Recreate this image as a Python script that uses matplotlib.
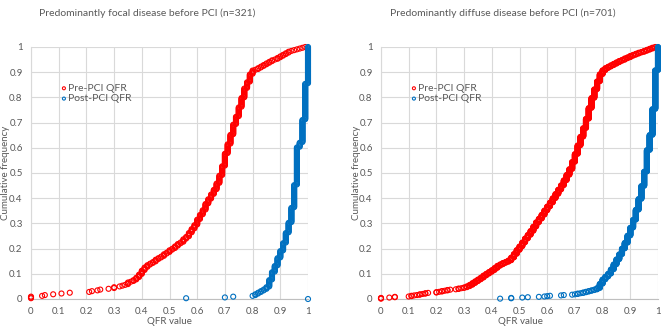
import numpy as np
import matplotlib
matplotlib.use("Agg")
import matplotlib.pyplot as plt

# QFR values (rounded to 0.01) and number of vessels at each value
focal_pre_vals = [0.00, 0.04, 0.05, 0.08, 0.11, 0.14, 0.21, 0.22, 0.24, 0.25, 0.28, 0.30, 0.32, 0.33, 0.34,
                  0.35, 0.36, 0.37, 0.38, 0.39, 0.40, 0.41, 0.42, 0.43, 0.44, 0.45, 0.46, 0.47, 0.48, 0.49,
                  0.50, 0.51, 0.52, 0.53, 0.54, 0.55, 0.56, 0.57, 0.58, 0.59, 0.60, 0.61, 0.62, 0.63, 0.64,
                  0.65, 0.66, 0.67, 0.68, 0.69, 0.70, 0.71, 0.72, 0.73, 0.74, 0.75, 0.76, 0.77, 0.78, 0.79,
                  0.80, 0.81, 0.82, 0.83, 0.84, 0.85, 0.86, 0.87, 0.88, 0.89, 0.90, 0.91, 0.92, 0.93, 0.94,
                  0.95, 0.96, 0.97, 0.98, 0.99]
focal_pre_counts = [3, 1, 1, 1, 1, 1, 1, 1, 1, 1, 1, 2, 1, 1, 1,
                    3, 1, 2, 3, 4, 5, 4, 3, 2, 2, 3, 2, 2, 3, 2,
                    3, 2, 3, 3, 2, 4, 3, 5, 5, 5, 7, 6, 6, 8, 6,
                    6, 6, 8, 10, 12, 16, 12, 12, 13, 10, 12, 12, 12, 8, 10,
                    5, 1, 2, 2, 2, 2, 2, 2, 1, 2, 2, 2, 2, 2, 1,
                    1, 1, 1, 1, 1]

focal_post_vals = [0.56, 0.70, 0.73, 0.80, 0.81, 0.82, 0.83, 0.84, 0.85, 0.86, 0.87, 0.88, 0.89, 0.90,
                   0.91, 0.92, 0.93, 0.94, 0.95, 0.96, 0.97, 0.98, 0.99, 1.00]
focal_post_counts = [1, 1, 1, 1, 2, 2, 2, 2, 3, 9, 10, 8, 10, 9,
                     10, 13, 13, 19, 29, 48, 6, 29, 46, 47]
focal_post_stray = (1.00, 0.0)  # lone point drawn at the bottom right in the original

diffuse_pre_vals = [0.00, 0.03, 0.05, 0.10, 0.11, 0.12, 0.13, 0.14, 0.15, 0.16, 0.17,
                    0.20, 0.21, 0.22, 0.23, 0.24, 0.25, 0.27, 0.28, 0.29, 0.30,
                    0.31, 0.32, 0.33, 0.34, 0.35, 0.36, 0.37, 0.38, 0.39, 0.40,
                    0.41, 0.42, 0.43, 0.44, 0.45, 0.46, 0.47, 0.48, 0.49, 0.50,
                    0.51, 0.52, 0.53, 0.54, 0.55, 0.56, 0.57, 0.58, 0.59, 0.60,
                    0.61, 0.62, 0.63, 0.64, 0.65, 0.66, 0.67, 0.68, 0.69, 0.70,
                    0.71, 0.72, 0.73, 0.74, 0.75, 0.76, 0.77, 0.78, 0.79, 0.80,
                    0.81, 0.82, 0.83, 0.84, 0.85, 0.86, 0.87, 0.88, 0.89, 0.90,
                    0.91, 0.92, 0.93, 0.94, 0.95, 0.96, 0.97, 0.98, 0.99]
diffuse_pre_counts = [3, 1, 2, 1, 2, 1, 1, 2, 1, 2, 1,
                      2, 1, 2, 1, 2, 1, 1, 2, 1, 2,
                      3, 4, 5, 5, 5, 5, 6, 5, 5, 5,
                      6, 6, 4, 4, 3, 4, 8, 10, 11, 10,
                      11, 11, 10, 11, 12, 12, 10, 11, 12, 11,
                      11, 12, 12, 12, 12, 14, 15, 16, 20, 22,
                      24, 24, 24, 26, 30, 28, 24, 22, 20, 11,
                      6, 4, 4, 4, 4, 4, 3, 4, 3, 4,
                      3, 3, 3, 2, 3, 3, 3, 3, 2]

diffuse_post_vals = [0.43, 0.47, 0.51, 0.53, 0.57, 0.59, 0.60, 0.61, 0.65, 0.66,
                     0.69, 0.70, 0.71, 0.72, 0.73, 0.74, 0.75, 0.76, 0.77, 0.78,
                     0.79, 0.80, 0.81, 0.82, 0.83, 0.84, 0.85, 0.86, 0.87, 0.88,
                     0.89, 0.90, 0.91, 0.92, 0.93, 0.94, 0.95, 0.96, 0.97, 0.98,
                     0.99, 1.00]
diffuse_post_counts = [1, 2, 1, 1, 1, 1, 1, 1, 1, 1,
                       1, 1, 2, 1, 2, 2, 2, 2, 2, 4,
                       12, 12, 8, 8, 12, 14, 14, 14, 16, 16,
                       20, 22, 22, 28, 30, 36, 40, 60, 42, 72,
                       108, 65]

titles = ["Predominantly focal disease before PCI (n=321)",
          "Predominantly diffuse disease before PCI (n=701)"]
ticks = np.round(np.arange(0, 1.01, 0.1), 1)
tick_labels = ["0", "0.1", "0.2", "0.3", "0.4", "0.5", "0.6", "0.7", "0.8", "0.9", "1"]

RED = "#ff0000"
BLUE = "#0070c0"
GRAY = "#595959"

plt.rcParams['font.family'] = ['Lato', 'DejaVu Sans']


def cumulative(vals, counts):
    x = np.repeat(vals, counts)
    y = np.arange(1, len(x) + 1) / len(x)
    return x, y


fig = plt.figure(figsize=(6.61, 3.28), dpi=100)

panels = [
    (focal_pre_vals, focal_pre_counts, focal_post_vals, focal_post_counts, [focal_post_stray]),
    (diffuse_pre_vals, diffuse_pre_counts, diffuse_post_vals, diffuse_post_counts, []),
]
ax_left = [31 / 661, 381 / 661]
title_x = [147 / 661, 503 / 661]
ylab_x = [6 / 661, 356 / 661]
xlab_x = [169 / 661, 520 / 661]

for i, (pv, pc, qv, qc, stray) in enumerate(panels):
    ax = fig.add_axes([ax_left[i], 1 - 299 / 328, 277 / 661, 252 / 328])
    px, py = cumulative(pv, pc)
    qx, qy = cumulative(qv, qc)
    if stray:
        sx, sy = zip(*stray)
        qx = np.concatenate([qx, sx])
        qy = np.concatenate([qy, sy])
    ax.scatter(px, py, s=13, facecolors='none', edgecolors=RED, linewidths=0.8,
               label="Pre-PCI QFR", zorder=3, clip_on=False)
    ax.scatter(qx, qy, s=13, facecolors='none', edgecolors=BLUE, linewidths=0.8,
               label="Post-PCI QFR", zorder=4, clip_on=False)

    ax.set_xlim(0, 1)
    ax.set_ylim(0, 1)
    ax.set_xticks(ticks)
    ax.set_yticks(ticks)
    ax.set_xticklabels(tick_labels)
    ax.set_yticklabels(tick_labels)
    ax.tick_params(length=0, labelsize=7, colors=GRAY, pad=6)
    ax.grid(True, color="#d9d9d9", linewidth=0.8)
    ax.set_axisbelow(True)
    for side in ["top", "right"]:
        ax.spines[side].set_visible(False)
    ax.spines["left"].set_color("#d9d9d9")
    ax.spines["bottom"].set_color("#bfbfbf")

    leg = ax.legend(loc="upper left", bbox_to_anchor=(0.085, 0.875), frameon=False,
                    fontsize=7.5, handletextpad=0.0, handlelength=0.8, labelspacing=0.1,
                    markerscale=0.6, borderpad=0)
    for t in leg.get_texts():
        t.set_color(GRAY)

    fig.text(title_x[i], 1 - 13 / 328, titles[i], ha="center", va="center", fontsize=7.5, color=GRAY)
    fig.text(ylab_x[i], 1 - 173 / 328, "Cumulative frequency", rotation=90,
             ha="center", va="center", fontsize=7, color=GRAY)
    fig.text(xlab_x[i], 1 - 321 / 328, "QFR value", ha="center", va="center",
             fontsize=7, color=GRAY)

fig.savefig("out.png", dpi=100)
